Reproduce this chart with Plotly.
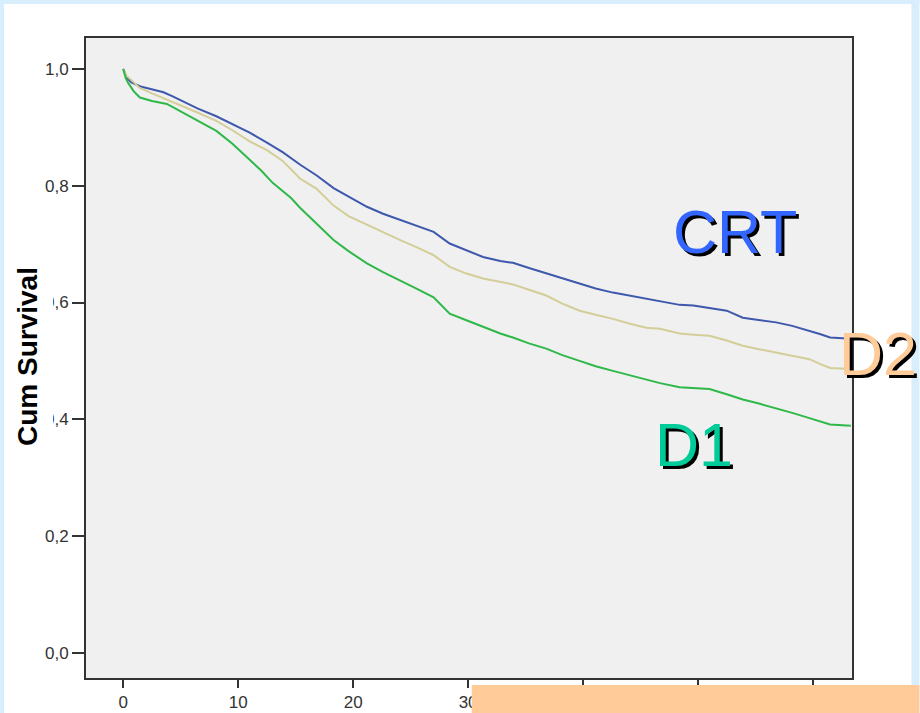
import plotly.graph_objects as go

# ---------------- data ----------------
crt_t = [0, 0.3, 0.7, 1.5, 2.3, 3.5, 4.3, 5.2, 6.5, 8.1, 9.5, 11.0, 12.5, 13.9, 15.4, 16.8,
         18.3, 19.6, 21.2, 22.6, 24.1, 25.6, 27.0, 28.4, 29.8, 31.3, 32.8, 33.9, 35.3, 36.8,
         38.2, 39.7, 41.1, 42.6, 44.0, 45.5, 46.7, 48.4, 49.6, 51.0, 52.5, 53.9, 55.3, 56.8,
         58.2, 59.7, 60.6, 61.5, 63.3]
crt_s = [1.0, 0.985, 0.977, 0.970, 0.966, 0.960, 0.953, 0.944, 0.932, 0.919, 0.906, 0.891,
         0.874, 0.857, 0.836, 0.818, 0.796, 0.781, 0.764, 0.752, 0.741, 0.731, 0.721, 0.701,
         0.690, 0.678, 0.671, 0.668, 0.659, 0.650, 0.641, 0.632, 0.624, 0.617, 0.612, 0.607,
         0.603, 0.596, 0.595, 0.591, 0.586, 0.574, 0.570, 0.566, 0.560, 0.552, 0.546, 0.540,
         0.538]

d2_t = [0, 0.3, 0.6, 1.4, 2.3, 3.5, 5.2, 6.5, 8.1, 9.5, 11.0, 12.5, 13.9, 15.4, 16.8, 18.3,
        19.6, 21.2, 22.6, 24.1, 25.6, 27.0, 28.4, 29.8, 31.3, 32.8, 33.9, 35.3, 36.8, 38.2,
        39.7, 41.1, 42.6, 44.0, 45.5, 46.7, 48.4, 49.6, 51.0, 52.5, 53.9, 55.3, 56.8, 58.2,
        59.7, 60.6, 61.5, 63.3]
d2_s = [1.0, 0.988, 0.983, 0.968, 0.960, 0.950, 0.937, 0.925, 0.911, 0.895, 0.876, 0.861,
        0.842, 0.812, 0.795, 0.766, 0.748, 0.733, 0.720, 0.707, 0.694, 0.681, 0.661, 0.650,
        0.641, 0.635, 0.631, 0.622, 0.612, 0.598, 0.586, 0.579, 0.572, 0.564, 0.557, 0.555,
        0.547, 0.545, 0.543, 0.535, 0.526, 0.520, 0.514, 0.509, 0.503, 0.495, 0.488, 0.486]

d1_t = [0, 0.2, 0.4, 0.9, 1.45, 2.5, 3.8, 5.2, 6.5, 8.1, 9.5, 11.0, 12.0, 13.0, 14.6, 15.4,
        16.8, 18.3, 19.6, 21.2, 22.6, 24.1, 25.6, 27.0, 28.4, 29.8, 31.3, 32.8, 33.9, 35.3,
        36.8, 38.2, 39.7, 41.1, 42.6, 44.0, 45.5, 46.7, 48.4, 49.6, 51.0, 52.5, 53.9, 55.3,
        56.8, 58.2, 59.7, 60.6, 61.5, 63.3]
d1_s = [1.0, 0.985, 0.977, 0.962, 0.951, 0.945, 0.940, 0.925, 0.911, 0.894, 0.872, 0.845,
        0.826, 0.805, 0.779, 0.762, 0.735, 0.707, 0.688, 0.667, 0.652, 0.638, 0.623, 0.609,
        0.581, 0.570, 0.558, 0.547, 0.540, 0.530, 0.521, 0.510, 0.500, 0.491, 0.483, 0.476,
        0.469, 0.462, 0.455, 0.454, 0.452, 0.443, 0.434, 0.427, 0.419, 0.411, 0.402, 0.396,
        0.391, 0.389]

x_ticks = [0, 10, 20, 30, 40, 50, 60]
y_ticks = [0.0, 0.2, 0.4, 0.6, 0.8, 1.0]
y_tick_labels = ["0,0", "0,2", "0,4", "0,6", "0,8", "1,0"]
y_title = "Cum Survival"
labels = ["CRT", "D2", "D1"]

# ---------------- layout geometry ----------------
W, H = 920, 713
L, R, T, B = 86, 852.5, 38, 678


def px(xp):
    return (xp - L) / (R - L)


def py(yp):
    return (B - yp) / (B - T)


fig = go.Figure()
series = [(crt_t, crt_s, "#3E58AC"), (d2_t, d2_s, "#D3CE97"), (d1_t, d1_s, "#2EB848")]
for (t, s, c), name in zip(series, labels):
    fig.add_trace(go.Scatter(x=t, y=s, mode="lines", line=dict(color=c, width=2),
                             name=name, showlegend=False, hoverinfo="skip"))

axis_common = dict(showgrid=False, zeroline=False, showline=True, linecolor="#333333",
                   linewidth=2, mirror=True, ticks="outside", tickwidth=2,
                   automargin=False,
                   tickcolor="#333333", tickfont=dict(family="Arial, Liberation Sans", size=17,
                                                      color="#333333"))

fig.update_xaxes(range=[-3.24, 63.4], tickvals=x_ticks, ticktext=[str(v) for v in x_ticks],
                 ticklen=8, **axis_common)
fig.update_yaxes(range=[-0.043, 1.053], tickvals=y_ticks, ticktext=y_tick_labels,
                 ticklen=12, **axis_common)

shapes = [
    # light blue slide border
    dict(type="rect", xref="paper", yref="paper", x0=px(0), x1=px(4), y0=py(H), y1=py(0),
         fillcolor="#d8eefd", line_width=0, layer="below"),
    dict(type="rect", xref="paper", yref="paper", x0=px(0), x1=px(W), y0=py(4), y1=py(0),
         fillcolor="#d8eefd", line_width=0, layer="below"),
    dict(type="rect", xref="paper", yref="paper", x0=px(912), x1=px(W), y0=py(H), y1=py(0),
         fillcolor="#d8eefd", line_width=0, layer="below"),
    # white box behind the axis title (hides part of two tick labels, as in the original)
    dict(type="rect", xref="paper", yref="paper", x0=px(8), x1=px(53), y0=py(455), y1=py(260),
         fillcolor="#ffffff", line_width=0, layer="above"),
    # peach box at bottom
    dict(type="rect", xref="paper", yref="paper", x0=px(472), x1=px(W), y0=py(H), y1=py(685),
         fillcolor="#ffcc99", line_width=0, layer="above"),
]

annotations = [
    dict(text="<b>" + y_title + "</b>", x=px(27), y=py(357), xref="paper", yref="paper",
         showarrow=False, textangle=-90,
         font=dict(family="Arial, Liberation Sans", size=28, color="#000000"),
         xanchor="center", yanchor="middle"),
]

label_specs = [("CRT", 735, 232, "#3366ff"), ("D2", 879, 354, "#ffcc99"), ("D1", 694, 445, "#00cc99")]
for txt, cx, cy, col in label_specs:
    annotations.append(dict(text=txt, x=px(cx), y=py(cy), xref="paper", yref="paper",
                            showarrow=False, xshift=3, yshift=-3, xanchor="center", yanchor="middle",
                            font=dict(family="Arial, Liberation Sans", size=61, color="#000000")))
    annotations.append(dict(text=txt, x=px(cx), y=py(cy), xref="paper", yref="paper",
                            showarrow=False, xanchor="center", yanchor="middle",
                            font=dict(family="Arial, Liberation Sans", size=61, color=col)))

fig.update_layout(width=W, height=H, margin=dict(l=L, r=W - R, t=T, b=H - B, autoexpand=False),
                  paper_bgcolor="#ffffff", plot_bgcolor="#f0f0f0",
                  shapes=shapes, annotations=annotations, showlegend=False)

fig.write_html("out.html", config={"displayModeBar": False},
               post_script="document.body.style.margin='0';")
